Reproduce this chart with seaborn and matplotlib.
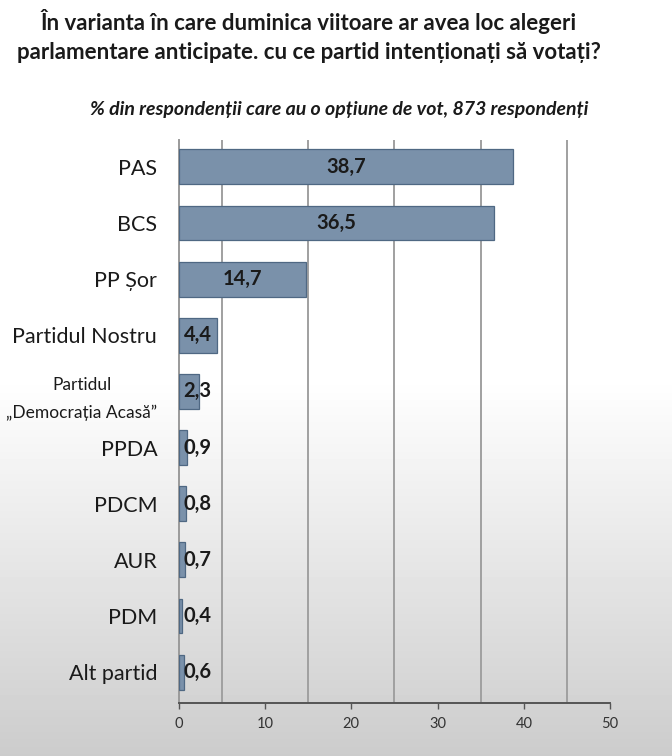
import numpy as np
import matplotlib
matplotlib.use('Agg')
import matplotlib.pyplot as plt
import seaborn as sns

# data
parties = ['PAS', 'BCS', 'PP Șor', 'Partidul Nostru', 'Partidul\n„Democrația Acasă”',
           'PPDA', 'PDCM', 'AUR', 'PDM', 'Alt partid']
values = [38.7, 36.5, 14.7, 4.4, 2.3, 0.9, 0.8, 0.7, 0.4, 0.6]
value_labels = ['38,7', '36,5', '14,7', '4,4', '2,3', '0,9', '0,8', '0,7', '0,4', '0,6']
xticks = [0, 10, 20, 30, 40, 50]
gridpos = [5, 15, 25, 35, 45]

title = 'În varianta în care duminica viitoare ar avea loc alegeri\nparlamentare anticipate. cu ce partid intenționați să votați?'
subtitle = '% din respondenții care au o opțiune de vot, 873 respondenți'

sns.set_style('white')
plt.rcParams['font.family'] = ['Lato', 'DejaVu Sans']

fig = plt.figure(figsize=(6.72, 7.56), dpi=100)

# screenshot-like background: white on top, fading to light gray at the bottom
bg = fig.add_axes([0, 0, 1, 1], zorder=-5)
rows = np.linspace(0, 1, 756)
shade = np.where(rows < 0.5, 1.0, 1.0 - (rows - 0.5) / 0.5 * 0.2)
bg.imshow(np.tile(shade[:, None], (1, 10)), cmap='gray', vmin=0, vmax=1,
          aspect='auto', extent=[0, 1, 0, 1], origin='upper')
bg.axis('off')

ax = fig.add_axes([0.266, 0.070, 0.642, 0.745])
ax.set_facecolor('none')

sns.barplot(x=values, y=parties, orient='h', color='#7a91aa', saturation=1,
            edgecolor='#4f6883', linewidth=0.9, width=0.62, ax=ax, zorder=3)

for i, (v, lab) in enumerate(zip(values, value_labels)):
    ax.text(max(v / 2, 2.2), i, lab, ha='center', va='center',
            fontsize=14.5, fontweight='bold', color='#1a1a1a', zorder=4)

ax.set_xlim(0, 50)
ax.set_ylim(9.55, -0.48)
ax.set_xticks(xticks)
ax.set_xticklabels([str(t) for t in xticks])
for g in gridpos:
    ax.axvline(g, color='#a0a0a0', lw=1.4, zorder=1)

ax.tick_params(axis='x', length=4, width=1, color='#555555', labelsize=10.5,
               labelcolor='#333333', pad=6, direction='out', bottom=True)
ax.tick_params(axis='y', length=0, labelsize=15.5, labelcolor='#1a1a1a', pad=15.5)
for lab in ax.get_yticklabels():
    lab.set_multialignment('center')
    if '\n' in lab.get_text():
        lab.set_fontsize(12.5)
        lab.set_linespacing(1.9)

for s in ['top', 'right']:
    ax.spines[s].set_visible(False)
ax.spines['left'].set_color('#9a9a9a')
ax.spines['left'].set_linewidth(1.4)
ax.spines['bottom'].set_color('#555555')
ax.spines['bottom'].set_linewidth(1.4)
ax.set_xlabel('')
ax.set_ylabel('')

fig.text(0.46, 0.952, title, ha='center', va='center', fontsize=16,
         fontweight='bold', color='#1a1a1a', linespacing=1.45)
fig.text(0.505, 0.855, subtitle, ha='center', va='center', fontsize=14,
         fontweight='bold', fontstyle='italic', color='#1a1a1a')

fig.savefig('out.png', dpi=100)
